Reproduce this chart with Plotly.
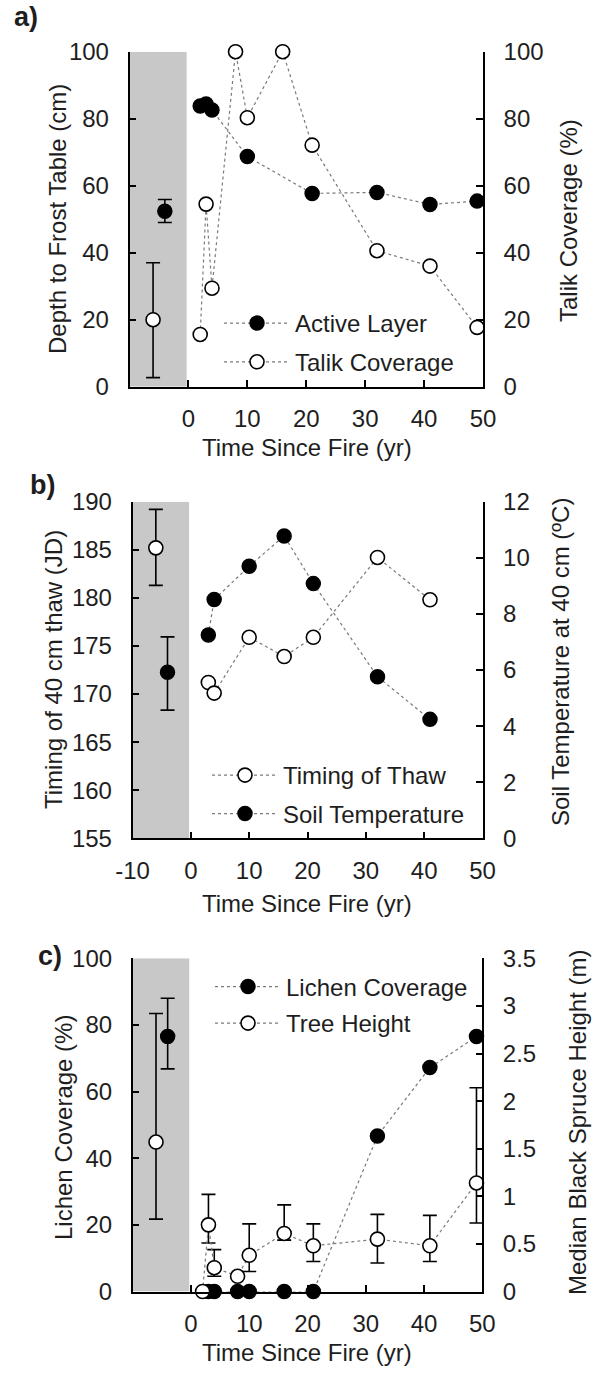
import plotly.graph_objects as go

W, H = 592, 1375
FONT = "Liberation Sans, Arial, sans-serif"
TXT = "#1e1e1e"

# ---------------- data ----------------
# panel a
a_active_years = [2, 3, 4, 10, 21, 32, 41, 49]
a_active_layer = [83.8, 84.4, 82.6, 68.7, 57.7, 58.0, 54.4, 55.4]
a_talik_years = [2, 3, 4, 8, 10, 16, 21, 32, 41, 49]
a_talik_cov = [15.6, 54.5, 29.4, 100, 80.3, 100, 72.1, 40.6, 36.0, 17.7]
a_pre_active_x, a_pre_active, a_pre_active_up, a_pre_active_dn = [-4], [52.4], [3.5], [3.4]
a_pre_talik_x, a_pre_talik, a_pre_talik_up, a_pre_talik_dn = [-6], [20.0], [17.0], [17.3]

# panel b
b_years = [3, 4, 10, 16, 21, 32, 41]
b_thaw_timing = [171.2, 170.1, 175.9, 173.9, 175.9, 184.2, 179.8]
b_soil_temp = [7.25, 8.51, 9.70, 10.78, 9.08, 5.76, 4.24]
b_pre_thaw_x, b_pre_thaw, b_pre_thaw_up, b_pre_thaw_dn = [-6], [185.2], [4.0], [3.9]
b_pre_soil_x, b_pre_soil, b_pre_soil_up, b_pre_soil_dn = [-4], [5.92], [1.26], [1.35]

# panel c
c_lichen_years = [3, 4, 8, 10, 16, 21, 32, 41, 49]
c_lichen_cov = [0, 0, 0, 0, 0, 0, 46.7, 67.2, 76.5]
c_tree_years = [2, 3, 4, 8, 10, 16, 21, 32, 41, 49]
c_tree_height = [0.0, 0.70, 0.25, 0.16, 0.38, 0.61, 0.48, 0.55, 0.48, 1.14]
c_tree_up = [0, 0.32, 0.19, 0, 0.33, 0.30, 0.23, 0.26, 0.32, 1.00]
c_tree_dn = [0, 0.19, 0.09, 0, 0.17, 0.07, 0.165, 0.25, 0.165, 0.42]
c_pre_lichen_x, c_pre_lichen, c_pre_lichen_up, c_pre_lichen_dn = [-4], [76.5], [11.5], [9.7]
c_pre_tree_x, c_pre_tree, c_pre_tree_up, c_pre_tree_dn = [-6], [1.57], [1.35], [0.81]

x_ticks_a = [0, 10, 20, 30, 40, 50]
x_ticks_b = [-10, 0, 10, 20, 30, 40, 50]
x_ticktext_b = ["-10", "0", "10", "20", "30", "40", "50"]
y_ticks_pct = [0, 20, 40, 60, 80, 100]
y_ticks_jd = [155, 160, 165, 170, 175, 180, 185, 190]
y_ticks_temp = [0, 2, 4, 6, 8, 10, 12]
y_ticks_m = [0, 0.5, 1, 1.5, 2, 2.5, 3, 3.5]
y_ticktext_m = ["0", "0.5", "1", "1.5", "2", "2.5", "3", "3.5"]


def fx(p):
    return p / W


def fy(p):
    return 1 - p / H


LINE = dict(color="#7a7a7a", width=1.2, dash="dot")
FILLED = dict(size=14, color="black", line=dict(color="black", width=1.5))
OPEN = dict(size=14, color="white", line=dict(color="black", width=1.6))


def err(up, dn):
    return dict(type="data", symmetric=False, array=up, arrayminus=dn,
                color="black", thickness=1.6, width=7)


fig = go.Figure()

# ---- panel a ----
fig.add_trace(go.Scatter(x=a_active_years, y=a_active_layer, mode="lines+markers",
                         name="Active Layer", line=LINE, marker=FILLED,
                         xaxis="x", yaxis="y", legend="legend", legendgroup="a1", cliponaxis=False))
fig.add_trace(go.Scatter(x=a_talik_years, y=a_talik_cov, mode="lines+markers",
                         name="Talik Coverage", line=LINE, marker=OPEN,
                         xaxis="x", yaxis="y2", legend="legend", legendgroup="a2", cliponaxis=False))
fig.add_trace(go.Scatter(x=a_pre_active_x, y=a_pre_active, mode="markers", marker=FILLED,
                         error_y=err(a_pre_active_up, a_pre_active_dn),
                         xaxis="x", yaxis="y", showlegend=False))
fig.add_trace(go.Scatter(x=a_pre_talik_x, y=a_pre_talik, mode="markers", marker=OPEN,
                         error_y=err(a_pre_talik_up, a_pre_talik_dn),
                         xaxis="x", yaxis="y2", showlegend=False))

# ---- panel b ----
fig.add_trace(go.Scatter(x=b_years, y=b_thaw_timing, mode="lines+markers",
                         name="Timing of Thaw", line=LINE, marker=OPEN,
                         xaxis="x2", yaxis="y3", legend="legend2", legendgroup="b1", cliponaxis=False))
fig.add_trace(go.Scatter(x=b_years, y=b_soil_temp, mode="lines+markers",
                         name="Soil Temperature", line=LINE, marker=FILLED,
                         xaxis="x2", yaxis="y4", legend="legend2", legendgroup="b2", cliponaxis=False))
fig.add_trace(go.Scatter(x=b_pre_thaw_x, y=b_pre_thaw, mode="markers", marker=OPEN,
                         error_y=err(b_pre_thaw_up, b_pre_thaw_dn),
                         xaxis="x2", yaxis="y3", showlegend=False))
fig.add_trace(go.Scatter(x=b_pre_soil_x, y=b_pre_soil, mode="markers", marker=FILLED,
                         error_y=err(b_pre_soil_up, b_pre_soil_dn),
                         xaxis="x2", yaxis="y4", showlegend=False))

# ---- panel c ----
fig.add_trace(go.Scatter(x=c_lichen_years, y=c_lichen_cov, mode="lines+markers",
                         name="Lichen Coverage", line=LINE, marker=FILLED,
                         xaxis="x3", yaxis="y5", legend="legend3", legendgroup="c1",
                         cliponaxis=False))
fig.add_trace(go.Scatter(x=c_tree_years, y=c_tree_height, mode="lines+markers",
                         name="Tree Height", line=LINE, marker=OPEN,
                         error_y=err(c_tree_up, c_tree_dn),
                         xaxis="x3", yaxis="y6", legend="legend3", legendgroup="c2",
                         cliponaxis=False))
fig.add_trace(go.Scatter(x=c_pre_lichen_x, y=c_pre_lichen, mode="markers", marker=FILLED,
                         error_y=err(c_pre_lichen_up, c_pre_lichen_dn),
                         xaxis="x3", yaxis="y5", showlegend=False))
fig.add_trace(go.Scatter(x=c_pre_tree_x, y=c_pre_tree, mode="markers", marker=OPEN,
                         error_y=err(c_pre_tree_up, c_pre_tree_dn),
                         xaxis="x3", yaxis="y6", showlegend=False))

TICKFONT = dict(family=FONT, size=24, color=TXT)
common = dict(showline=True, linecolor="black", linewidth=1.5, ticks="inside", ticklen=7,
              tickwidth=1.5, tickcolor="black", showgrid=False, zeroline=False,
              tickfont=TICKFONT, fixedrange=True, automargin=False)
xcommon = dict(common, ticklabelstandoff=10)
ycommon = dict(common, ticklabelstandoff=14)

# panel geometry (pixels)
A = dict(l=129.5, r=483, t=51.7, b=386.7)
B = dict(l=132.5, r=482.5, t=501.7, b=838.3)
C = dict(l=132.7, r=482.3, t=958.3, b=1291.5)

fig.update_layout(
    template="none",
    width=W, height=H, margin=dict(l=0, r=0, t=0, b=0, pad=0, autoexpand=False),
    paper_bgcolor="white", plot_bgcolor="rgba(0,0,0,0)",
    font=dict(family=FONT, size=24, color=TXT),
    xaxis=dict(xcommon, domain=[fx(A["l"]), fx(A["r"])], range=[-10, 50], tickvals=x_ticks_a, anchor="y"),
    yaxis=dict(ycommon, domain=[fy(A["b"]), fy(A["t"])], range=[0, 100], tickvals=y_ticks_pct, anchor="x"),
    yaxis2=dict(ycommon, overlaying="y", side="right", range=[0, 100], tickvals=y_ticks_pct, anchor="x"),
    xaxis2=dict(xcommon, domain=[fx(B["l"]), fx(B["r"])], range=[-10, 50], tickvals=x_ticks_b,
                ticktext=x_ticktext_b, anchor="y3"),
    yaxis3=dict(ycommon, domain=[fy(B["b"]), fy(B["t"])], range=[155, 190], tickvals=y_ticks_jd, anchor="x2"),
    yaxis4=dict(ycommon, overlaying="y3", side="right", range=[0, 12], tickvals=y_ticks_temp, anchor="x2"),
    xaxis3=dict(xcommon, domain=[fx(C["l"]), fx(C["r"])], range=[-10, 50], tickvals=x_ticks_a, anchor="y5"),
    yaxis5=dict(ycommon, domain=[fy(C["b"]), fy(C["t"])], range=[0, 100], tickvals=y_ticks_pct, anchor="x3"),
    yaxis6=dict(ycommon, overlaying="y5", side="right", range=[0, 3.5], tickvals=y_ticks_m,
                ticktext=y_ticktext_m, anchor="x3"),
)

LEG = dict(xanchor="left", yanchor="top", bgcolor="rgba(0,0,0,0)", borderwidth=0,
           font=dict(family=FONT, size=24, color=TXT), itemwidth=66,
           traceorder="grouped", itemclick=False, itemdoubleclick=False)
fig.update_layout(
    showlegend=True,
    legend=dict(LEG, x=fx(219), y=fy(301), tracegroupgap=4.5),
    legend2=dict(LEG, x=fx(207), y=fy(753), tracegroupgap=4.3),
    legend3=dict(LEG, x=fx(210), y=fy(964.5), tracegroupgap=2.3),
)

# gray pre-fire bands
for xr, yr, top in [("x", "y", 100), ("x2", "y3", 190), ("x3", "y5", 100)]:
    y0 = 155 if yr == "y3" else 0
    fig.add_shape(type="rect", xref=xr, yref=yr, x0=-10, x1=-0.3, y0=y0, y1=top,
                  fillcolor="#c8c8c8", line=dict(width=0), layer="below")

ann = []


def title(text, x, y, angle=0, size=24, bold=False):
    ann.append(dict(text=("<b>%s</b>" % text) if bold else text, x=fx(x), y=fy(y),
                    xref="paper", yref="paper", showarrow=False, textangle=angle,
                    xanchor="center", yanchor="middle",
                    font=dict(family=FONT, size=size, color=TXT)))


title("Depth to Frost Table (cm)", 58, 219, -90)
title("Talik Coverage (%)", 568, 221, -90)
title("Time Since Fire (yr)", 307, 448)
title("Timing of 40 cm thaw (JD)", 53, 670, -90)
title("Soil Temperature at 40 cm (ºC)", 560, 662, -90)
title("Time Since Fire (yr)", 307, 903)
title("Lichen Coverage (%)", 63, 1128, -90)
title("Median Black Spruce Height (m)", 577, 1123, -90)
title("Time Since Fire (yr)", 307, 1352)
title("a)", 26, 17, size=27, bold=True)
title("b)", 43, 485, size=27, bold=True)
title("c)", 50, 956, size=27, bold=True)
fig.update_layout(annotations=ann)

fig.write_html("out.html")
